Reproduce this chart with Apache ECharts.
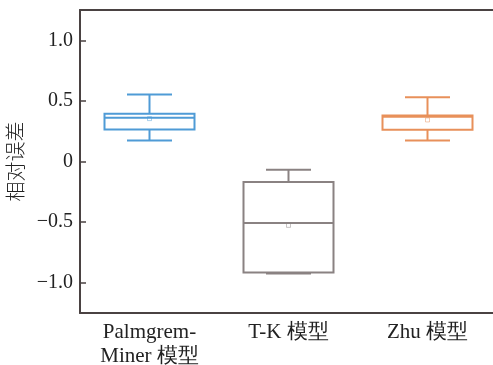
<!DOCTYPE html>
<html>
<head>
<meta charset="utf-8">
<script src="https://cdn.jsdelivr.net/npm/echarts@6/dist/echarts.min.js"></script>
<style>html,body{margin:0;padding:0;background:#fff;}#c{width:493px;height:365px;}</style>
</head>
<body>
<div id="c"></div>
<script>
const categories = ['Palmgrem-\nMiner 模型', 'T-K 模型', 'Zhu 模型'];
const mins    = [0.173, -0.925, 0.173];
const q1s     = [0.264, -0.915, 0.261];
const medians = [0.360, -0.508, 0.370];
const q3s     = [0.393, -0.170, 0.379];
const maxs    = [0.552, -0.069, 0.530];
const means   = [0.354, -0.527, 0.343];
const colors  = ['#4f9bd6', '#8a8282', '#e8905a'];
const yTickValues = [-1, -0.5, 0, 0.5, 1];
const yTickLabels = ['\u22121.0', '\u22120.5', '0', '0.5', '1.0'];

const font = 'Liberation Serif';
const axisColor = '#4a4242';
const BOX_W = 90;

const boxData = categories.map((c, i) => [i, mins[i], q1s[i], medians[i], q3s[i], maxs[i]]);
const meanData = categories.map((c, i) => ({
  value: [i, means[i]],
  itemStyle: { color: 'rgba(255,255,255,0)', borderColor: colors[i], borderWidth: 0.8, opacity: 0.6 }
}));

function renderBox(params, api) {
  const i = api.value(0);
  const cx = api.coord([i, 0])[0];
  const yMin = api.coord([i, api.value(1)])[1];
  const yQ1 = api.coord([i, api.value(2)])[1];
  const yMed = api.coord([i, api.value(3)])[1];
  const yQ3 = api.coord([i, api.value(4)])[1];
  const yMax = api.coord([i, api.value(5)])[1];
  const hw = BOX_W / 2, cw = BOX_W / 4;
  const st = { stroke: colors[i], lineWidth: 2, fill: null };
  return {
    type: 'group',
    children: [
      { type: 'line', shape: { x1: cx, y1: yMax, x2: cx, y2: yQ3 }, style: st },
      { type: 'line', shape: { x1: cx, y1: yQ1, x2: cx, y2: yMin }, style: st },
      { type: 'line', shape: { x1: cx - cw, y1: yMax, x2: cx + cw, y2: yMax }, style: st },
      { type: 'line', shape: { x1: cx - cw, y1: yMin, x2: cx + cw, y2: yMin }, style: st },
      { type: 'rect', shape: { x: cx - hw, y: yQ3, width: BOX_W, height: yQ1 - yQ3 }, style: { stroke: colors[i], lineWidth: 2, fill: '#fff' } },
      { type: 'line', shape: { x1: cx - hw, y1: yMed, x2: cx + hw, y2: yMed }, style: st }
    ]
  };
}

const chart = echarts.init(document.getElementById('c'));
chart.setOption({
  animation: false,
  grid: { left: 80, top: 10, bottom: 52, width: 417, outerBoundsMode: 'none', containLabel: false },
  xAxis: [{
    type: 'category',
    data: categories,
    boundaryGap: true,
    axisLine: { onZero: false, lineStyle: { color: axisColor, width: 2 } },
    axisTick: { inside: true, alignWithLabel: true, length: 5, lineStyle: { color: axisColor, width: 1.5 } },
    axisLabel: { color: '#222', fontFamily: font, fontSize: 21, lineHeight: 24, margin: 7, interval: 0 },
    splitLine: { show: false }
  }, {
    type: 'category',
    data: categories,
    position: 'top',
    axisLine: { onZero: false, lineStyle: { color: axisColor, width: 2 } },
    axisTick: { show: false },
    axisLabel: { show: false },
    splitLine: { show: false }
  }],
  yAxis: {
    type: 'value',
    min: -1.25,
    max: 1.25,
    name: '相对误差',
    nameLocation: 'middle',
    nameRotate: 90,
    nameGap: 55,
    nameTextStyle: { color: '#222', fontFamily: 'Noto Sans CJK SC', fontWeight: 300, fontSize: 20 },
    axisLine: { show: true, onZero: false, lineStyle: { color: axisColor, width: 2 } },
    axisTick: { show: true, inside: true, length: 6, customValues: yTickValues, lineStyle: { color: axisColor, width: 1.5 } },
    axisLabel: {
      color: '#222', fontFamily: font, fontSize: 20, margin: 7,
      customValues: yTickValues,
      formatter: function (v) {
        const idx = yTickValues.findIndex(t => Math.abs(t - v) < 1e-9);
        return idx >= 0 ? yTickLabels[idx] : '';
      }
    },
    splitLine: { show: false }
  },
  series: [{
    type: 'custom',
    renderItem: renderBox,
    data: boxData,
    encode: { x: 0, y: [1, 2, 3, 4, 5] },
    z: 3
  }, {
    type: 'scatter',
    data: meanData,
    symbol: 'rect',
    symbolSize: 4,
    z: 5
  }]
});
</script>
</body>
</html>
